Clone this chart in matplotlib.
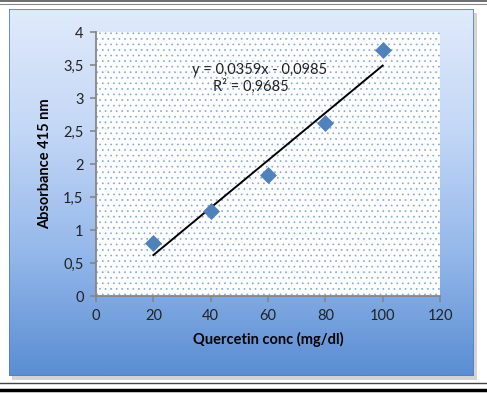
import numpy as np
import matplotlib
matplotlib.use("Agg")
import matplotlib.pyplot as plt
from matplotlib.patches import Rectangle
from matplotlib.lines import Line2D
from matplotlib.colors import LinearSegmentedColormap

plt.rcParams['font.family'] = ['Lato', 'DejaVu Sans']
plt.rcParams['hatch.linewidth'] = 0.5

# data
conc = [20, 40, 60, 80, 100]
absorb = [0.80, 1.29, 1.83, 2.62, 3.73]
slope = 0.0359
intercept = -0.0985
x_ticks = [0, 20, 40, 60, 80, 100, 120]
y_ticks = [0, 0.5, 1, 1.5, 2, 2.5, 3, 3.5, 4]
y_labels = ['0', '0,5', '1', '1,5', '2', '2,5', '3', '3,5', '4']

W, H = 487, 393
fig = plt.figure(figsize=(W / 100, H / 100), dpi=100)
fig.patch.set_facecolor('white')


def fx(px):
    return px / W


def fy(py):
    return 1 - py / H


# shadow of the chart frame
fig.add_artist(Rectangle((fx(12), fy(380)), fx(465), 367 / H,
                         transform=fig.transFigure, facecolor='#b8b8b8',
                         edgecolor='none', alpha=0.6, zorder=0))

# gradient frame
bg = fig.add_axes([fx(9), fy(376), fx(465), 367 / H])
bg.set_axis_off()
grad = np.linspace(0, 1, 256).reshape(-1, 1)
cmap = LinearSegmentedColormap.from_list(
    'frame', ['#e0eafb', '#c3d7f6', '#94b8ea', '#5a8dd3'])
bg.imshow(grad, aspect='auto', cmap=cmap, extent=[0, 1, 0, 1])
bg.add_patch(Rectangle((0, 0), 1, 1, transform=bg.transAxes,
                       facecolor='none', edgecolor='#4f81bd', lw=1.2))

# border lines of the page
fig.add_artist(Line2D([0, 1], [fy(1), fy(1)], color='#555555', lw=1.2))
fig.add_artist(Line2D([0, 1], [fy(4), fy(4)], color='#888888', lw=0.8))
fig.add_artist(Line2D([0, 1], [fy(383), fy(383)], color='#444444', lw=1.0))
fig.add_artist(Line2D([0, 1], [fy(390), fy(390)], color='black', lw=2.5))

ax = fig.add_axes([fx(96), fy(296), fx(344), 264 / H])
ax.set_facecolor('white')
ax.add_patch(Rectangle((0, 0), 1, 1, transform=ax.transAxes,
                       facecolor='white', edgecolor='#7fa8e2', lw=0,
                       hatch='...', zorder=0))

ax.scatter(conc, absorb, marker='D', s=75, color='#4f81bd', zorder=3,
           linewidths=0)
xs = np.array([conc[0], conc[-1]])
ax.plot(xs, slope * xs + intercept, color='black', lw=1.4, zorder=2)

ax.set_xlim(0, 120)
ax.set_ylim(0, 4)
ax.set_xticks(x_ticks)
ax.set_yticks(y_ticks)
ax.set_yticklabels(y_labels)

for s in ['top', 'right']:
    ax.spines[s].set_visible(False)
for s in ['left', 'bottom']:
    ax.spines[s].set_color('#868686')
    ax.spines[s].set_linewidth(1.3)
ax.tick_params(direction='out', length=4, width=1.2, color='#868686',
               labelsize=10.5, labelcolor='#222222', pad=5)

ax.set_xlabel('Quercetin conc (mg/dl)', fontsize=10.5, fontweight='bold',
              labelpad=7)
ax.set_ylabel('Absorbance 415 nm', fontsize=10.5, fontweight='bold',
              labelpad=8)

ax.text(57.0, 3.42, 'y = 0,0359x - 0,0985', ha='center', va='center',
        fontsize=10.5, color='#222222')
ax.text(54.0, 3.17, 'R² = 0,9685', ha='center', va='center',
        fontsize=10.5, color='#222222')

fig.savefig('out.png', dpi=100)
